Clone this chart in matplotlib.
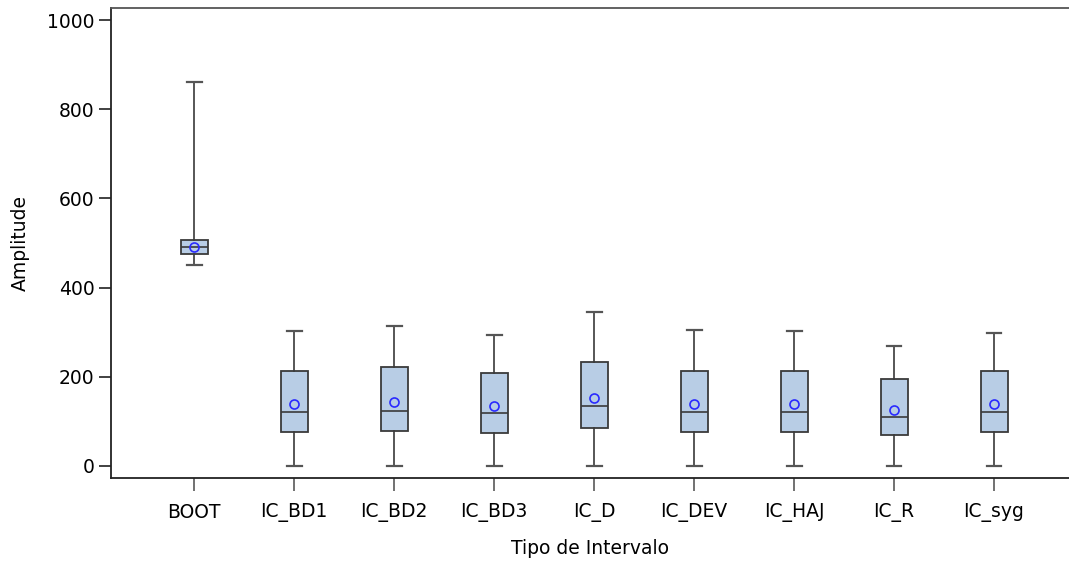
import matplotlib
matplotlib.use("Agg")
import matplotlib.pyplot as plt

categories = ["BOOT", "IC_BD1", "IC_BD2", "IC_BD3", "IC_D", "IC_DEV", "IC_HAJ", "IC_R", "IC_syg"]
whis_lo = [450, 0, 0, 0, 0, 0, 0, 0, 0]
q1 = [475, 76, 78, 74, 85, 76, 76, 70, 76]
median = [492, 121, 123, 119, 134, 121, 121, 110, 121]
q3 = [507, 213, 222, 208, 233, 213, 213, 195, 213]
whis_hi = [862, 303, 314, 294, 345, 305, 303, 269, 298]
means = [492, 139, 143, 135, 152, 139, 139, 126, 139]

stats = []
for i, name in enumerate(categories):
    stats.append({"label": name, "whislo": whis_lo[i], "q1": q1[i], "med": median[i],
                  "q3": q3[i], "whishi": whis_hi[i], "mean": means[i], "fliers": []})

plt.rcParams["font.family"] = ["DejaVu Sans"]
fig = plt.figure(figsize=(10.69, 5.68), dpi=100)
ax = fig.add_axes([111 / 1069, 1 - 478 / 568, 958 / 1069, 470 / 568])

edge = "#3a3a3a"
ax.bxp(stats, positions=range(1, len(categories) + 1), widths=0.27,
       patch_artist=True, showmeans=True, showfliers=False,
       boxprops=dict(facecolor="#b8cde5", edgecolor=edge, linewidth=1.3),
       medianprops=dict(color=edge, linewidth=1.2),
       whiskerprops=dict(color=edge, linewidth=1.2),
       capprops=dict(color="#555555", linewidth=1.6),
       capwidths=0.15,
       meanprops=dict(marker="o", markerfacecolor="none", markeredgecolor="#2a2aff",
                      markersize=6.5, markeredgewidth=1.2))

ax.set_xlim(0.17, 9.75)
ax.set_ylim(-27, 1027)
ax.set_yticks([0, 200, 400, 600, 800, 1000])
ax.set_xticks(range(1, len(categories) + 1))
ax.set_xticklabels(categories)
ax.tick_params(axis="both", labelsize=13.5, labelcolor="black", length=9, width=1.3)
ax.tick_params(axis="y", colors="#333333", labelcolor="black", pad=3)
ax.tick_params(axis="x", colors="#666666", labelcolor="black", pad=9)
ax.spines["right"].set_visible(False)
for s in ["left", "bottom"]:
    ax.spines[s].set_color("#222222")
    ax.spines[s].set_linewidth(1.3)
ax.spines["top"].set_color("#555555")
ax.spines["top"].set_linewidth(1.3)

ax.set_xlabel("Tipo de Intervalo", fontsize=13.5, labelpad=12)
ax.set_ylabel("Amplitude", fontsize=13.5, labelpad=12)

fig.savefig("out.png", dpi=100)
